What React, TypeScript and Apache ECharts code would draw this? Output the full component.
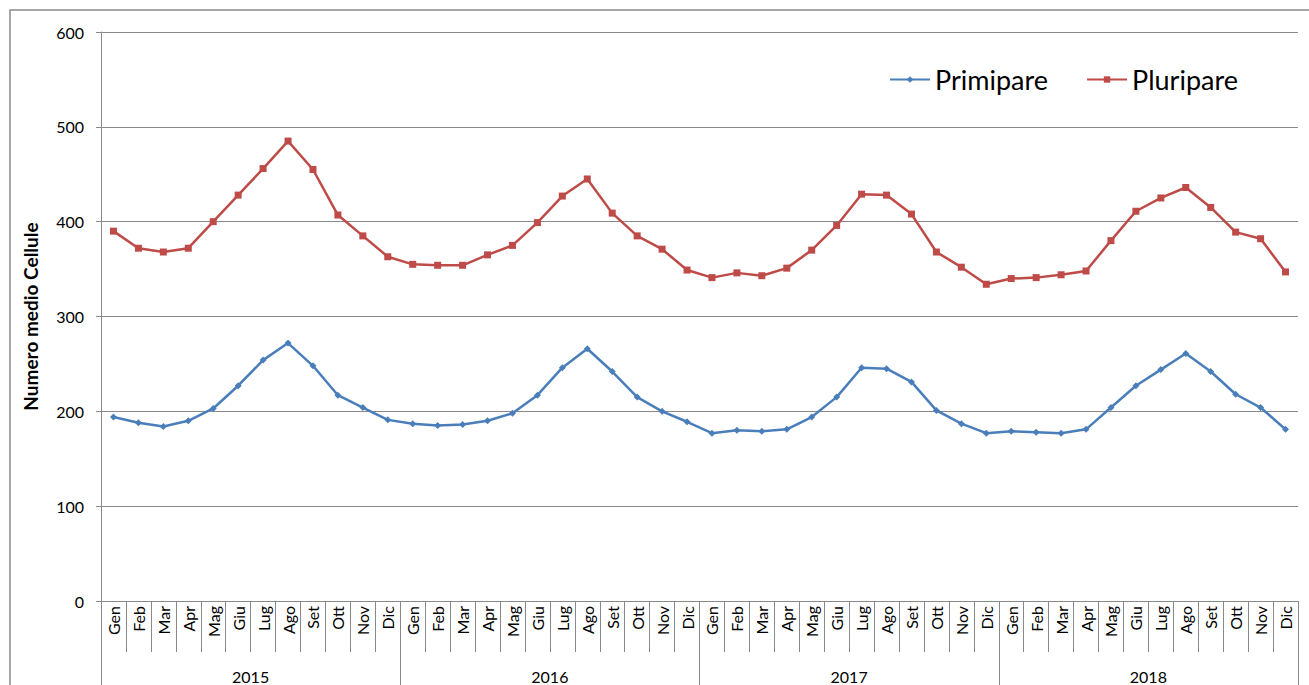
import React, { useEffect, useRef } from "react";
import * as echarts from "echarts";

const months = ["Gen", "Feb", "Mar", "Apr", "Mag", "Giu", "Lug", "Ago", "Set", "Ott", "Nov", "Dic"];
const years = ["2015", "2016", "2017", "2018"];
const categories: string[] = years.flatMap(() => months);

const primipare = [
  194, 188, 184, 190, 203, 227, 254, 272, 248, 217, 204, 191,
  187, 185, 186, 190, 198, 217, 246, 266, 242, 215, 200, 189,
  177, 180, 179, 181, 194, 215, 246, 245, 231, 201, 187, 177,
  179, 178, 177, 181, 204, 227, 244, 261, 242, 218, 204, 181,
];
const pluripare = [
  390, 372, 368, 372, 400, 428, 456, 485, 455, 407, 385, 363,
  355, 354, 354, 365, 375, 399, 427, 445, 409, 385, 371, 349,
  341, 346, 343, 351, 370, 396, 429, 428, 408, 368, 352, 334,
  340, 341, 344, 348, 380, 411, 425, 436, 415, 389, 382, 347,
];
const yTicks = [0, 100, 200, 300, 400, 500, 600];

const FONT = "Lato, 'Liberation Sans', sans-serif";
const GRAY = "#898989";

export default function App() {
  const ref = useRef<HTMLDivElement>(null);
  useEffect(() => {
    if (!ref.current) return;
    const chart = echarts.init(ref.current, undefined, { renderer: "svg" });
    chart.setOption({
      animation: false,
      backgroundColor: "#ffffff",
      textStyle: { fontFamily: FONT },
      graphic: [
        {
          type: "rect",
          shape: { x: 10, y: 10, width: 1320, height: 700 },
          style: { fill: "none", stroke: GRAY, lineWidth: 1.5 },
          silent: true,
          z: -1,
        },
      ],
      grid: { left: 101, right: 11, top: 32, bottom: 84, containLabel: false },
      legend: {
        left: 884,
        top: 61,
        itemWidth: 40,
        itemHeight: 8,
        itemGap: 38,
        textStyle: { fontSize: 27, color: "#000", fontFamily: FONT },
        data: ["Primipare", "Pluripare"],
      },
      xAxis: [
        {
          type: "category",
          data: categories,
          position: "bottom",
          boundaryGap: true,
          axisLine: { show: true, lineStyle: { color: GRAY, width: 1 } },
          axisTick: { show: true, interval: 0, length: 51, lineStyle: { color: GRAY } },
          axisLabel: {
            interval: 0,
            rotate: 90,
            margin: 5,
            fontSize: 16,
            color: "#000",
            fontFamily: FONT,
          },
          splitLine: { show: false },
        },
        {
          type: "category",
          data: years,
          position: "bottom",
          boundaryGap: true,
          axisLine: { show: false },
          axisTick: { show: true, interval: 0, length: 90, lineStyle: { color: GRAY } },
          axisLabel: { interval: 0, margin: 67, fontSize: 16, color: "#000", fontFamily: FONT },
          splitLine: { show: false },
        },
      ],
      yAxis: {
        type: "value",
        min: yTicks[0],
        max: yTicks[yTicks.length - 1],
        interval: 100,
        name: "Numero medio Cellule",
        nameLocation: "middle",
        nameGap: 61,
        nameRotate: 90,
        nameTextStyle: { fontSize: 19, fontWeight: "bold", color: "#000", fontFamily: FONT },
        axisLine: { show: true, lineStyle: { color: GRAY } },
        axisTick: { show: true, length: 5, lineStyle: { color: GRAY } },
        axisLabel: { margin: 17, fontSize: 16, color: "#000", fontFamily: FONT },
        splitLine: { show: true, lineStyle: { color: GRAY, width: 1 } },
      },
      series: [
        {
          name: "Primipare",
          type: "line",
          data: primipare,
          xAxisIndex: 0,
          symbol: "diamond",
          symbolSize: 7,
          showAllSymbol: true,
          lineStyle: { color: "#4A7EBB", width: 2.5 },
          itemStyle: { color: "#4A7EBB" },
        },
        {
          name: "Pluripare",
          type: "line",
          data: pluripare,
          xAxisIndex: 0,
          symbol: "rect",
          symbolSize: 7,
          showAllSymbol: true,
          lineStyle: { color: "#BE4B48", width: 2.5 },
          itemStyle: { color: "#BE4B48" },
        },
      ],
    });
    return () => chart.dispose();
  }, []);
  return (
    <div
      ref={ref}
      style={{ position: "fixed", left: 0, top: 0, width: 1309, height: 685 }}
    />
  );
}
